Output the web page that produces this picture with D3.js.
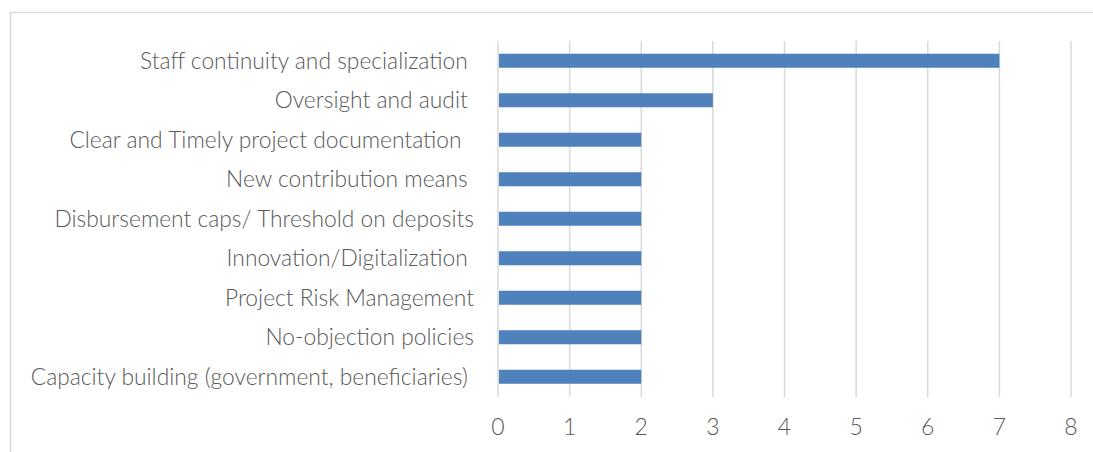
<!DOCTYPE html>
<html><head><meta charset="utf-8">
<script src="https://cdn.jsdelivr.net/npm/d3@7"></script>
<style>
html,body{margin:0;padding:0;background:#fff;}
text{white-space:pre;}
</style></head>
<body><svg id="c" width="1093" height="452"></svg>
<script>
const categories = [
  "Staff continuity and specialization ",
  "Oversight and audit ",
  "Clear and Timely project documentation  ",
  "New contribution means ",
  "Disbursement caps/ Threshold on deposits",
  "Innovation/Digitalization ",
  "Project Risk Management",
  "No-objection policies",
  "Capacity building (government, beneficiaries) "
];
const values = [7, 3, 2, 2, 2, 2, 2, 2, 2];
const xTicks = [0, 1, 2, 3, 4, 5, 6, 7, 8];

const svg = d3.select("#c");
const font = "Lato, 'Open Sans', sans-serif";
const gray = "#595959";
const grid = "#d9d9d9";

// chart frame
svg.append("rect").attr("x", 10.5).attr("y", 12.5).attr("width", 1200).attr("height", 600)
  .attr("fill", "none").attr("stroke", grid).attr("stroke-width", 1.5);

const x = d3.scaleLinear().domain([0, 8]).range([498, 1071]);
const y = d3.scaleBand().domain(categories).range([41, 396.5]).paddingInner(0.645).paddingOuter(0.3225);

// gridlines
svg.append("g").selectAll("line").data(xTicks).join("line")
  .attr("x1", d => x(d)).attr("x2", d => x(d))
  .attr("y1", 41).attr("y2", 397)
  .attr("stroke", grid).attr("stroke-width", 1.5);

// bars
svg.append("g").selectAll("rect").data(values).join("rect")
  .attr("x", x(0) + 1)
  .attr("y", (d, i) => y(categories[i]))
  .attr("width", d => x(d) - x(0) - 1)
  .attr("height", y.bandwidth())
  .attr("fill", "#4f81bd");

// category labels
svg.append("g").selectAll("text").data(categories).join("text")
  .attr("x", 474)
  .attr("y", d => y(d) + y.bandwidth() / 2)
  .attr("dy", "0.35em")
  .attr("text-anchor", "end")
  .attr("font-family", font).attr("font-size", 22.8).attr("font-weight", 300)
  .attr("fill", gray)
  .text(d => d);

// x tick labels
svg.append("g").selectAll("text").data(xTicks).join("text")
  .attr("x", d => x(d))
  .attr("y", 427)
  .attr("dy", "0.35em")
  .attr("text-anchor", "middle")
  .attr("font-family", font).attr("font-size", 23).attr("font-weight", 300)
  .attr("fill", gray)
  .text(d => d);
</script>
</body></html>
